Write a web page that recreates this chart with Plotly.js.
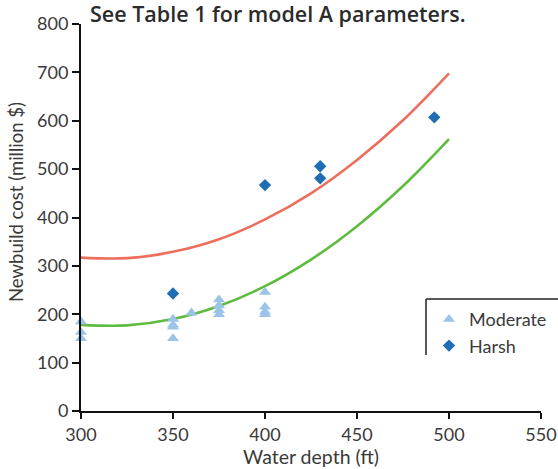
<!DOCTYPE html>
<html>
<head>
<meta charset="utf-8">
<script src="https://cdn.plot.ly/plotly-3.0.1.min.js"></script>
<style>html,body{margin:0;padding:0;background:#fff;}#chart{width:558px;height:469px;}</style>
</head>
<body>
<div id="chart"></div>
<script>
// Moderate (triangles)
const moderateX = [300, 300, 300, 350, 350, 350, 350, 360, 375, 375, 375, 375, 400, 400, 400, 400];
const moderateY = [185, 163, 150, 190, 178, 174, 150, 203, 230, 218, 208, 200, 246, 215, 205, 200];
// Harsh (diamonds)
const harshX = [350, 400, 430, 430, 492];
const harshY = [243, 467, 506, 481, 607];
// Model curves
const curveX = [300, 325, 350, 375, 400, 425, 450, 475, 500];
const harshCurveY = [317, 316, 329, 355, 396, 450, 519, 601, 698];
const moderateCurveY = [178, 177, 190, 217, 258, 313, 382, 465, 562];

const font = 'Lato, "Open Sans", sans-serif';
const txt = '#3a3a3a';

const traces = [
  {x: curveX, y: harshCurveY, mode: 'lines', line: {color: '#ec6f5e', width: 2.6, shape: 'spline'}, showlegend: false, hoverinfo: 'skip'},
  {x: curveX, y: moderateCurveY, mode: 'lines', line: {color: '#5dbb3f', width: 2.6, shape: 'spline'}, showlegend: false, hoverinfo: 'skip'},
  {x: moderateX, y: moderateY, mode: 'markers', name: 'Moderate', cliponaxis: false,
   marker: {symbol: 'triangle-up', size: 10.5, color: '#9cc4e8'}},
  {x: harshX, y: harshY, mode: 'markers', name: 'Harsh', cliponaxis: false,
   marker: {symbol: 'diamond', size: 9.5, color: '#1f6db4'}}
];

const layout = {
  width: 558, height: 469,
  margin: {l: 81, r: 17, t: 24, b: 58, autoexpand: false},
  paper_bgcolor: '#fff', plot_bgcolor: '#fff',
  font: {family: font, color: txt, size: 18},
  title: {text: 'See Table 1 for model A parameters.', font: {family: '"Open Sans", sans-serif', size: 21.5, weight: 600, color: '#2b2b2b'},
          xref: 'container', x: 90/558, xanchor: 'left', yref: 'container', y: 1 - 14/469, yanchor: 'middle'},
  xaxis: {range: [300, 550], tickvals: [300, 350, 400, 450, 500, 550], showgrid: false, zeroline: false,
          showline: true, linecolor: '#111', linewidth: 2, ticks: 'outside', ticklen: 6, tickwidth: 2, tickcolor: '#111',
          tickfont: {size: 18, color: txt},
          title: {text: 'Water depth (ft)', font: {size: 19.5, color: txt}, standoff: 4}},
  yaxis: {range: [0, 800], tickvals: [0, 100, 200, 300, 400, 500, 600, 700, 800], showgrid: false, zeroline: false,
          showline: true, linecolor: '#111', linewidth: 2, ticks: 'outside', ticklen: 7, tickwidth: 2, tickcolor: '#111',
          tickfont: {size: 18, color: txt}},
  annotations: [
    {text: 'Newbuild cost (million $)', textangle: -90, xref: 'paper', yref: 'paper',
     x: (16 - 81) / 460, y: (411 - 202) / 387, xanchor: 'center', yanchor: 'middle', showarrow: false,
     font: {size: 18.5, color: txt}}
  ],
  showlegend: true,
  legend: {x: (429 - 81) / 460, xanchor: 'left', y: (411 - 301) / 387, yanchor: 'top', bgcolor: 'rgba(0,0,0,0)',
           borderwidth: 0, font: {size: 18, color: txt}, itemwidth: 30, tracegroupgap: 0},
  shapes: [
    {type: 'line', xref: 'paper', yref: 'paper', x0: (426 - 81) / 460, x1: (558 - 81) / 460,
     y0: (411 - 299) / 387, y1: (411 - 299) / 387, line: {color: '#222', width: 1.5}},
    {type: 'line', xref: 'paper', yref: 'paper', x0: (426 - 81) / 460, x1: (426 - 81) / 460,
     y0: (411 - 299) / 387, y1: (411 - 355) / 387, line: {color: '#222', width: 1.5}}
  ]
};

Plotly.newPlot('chart', traces, layout, {displayModeBar: false, staticPlot: true});
</script>
</body>
</html>
